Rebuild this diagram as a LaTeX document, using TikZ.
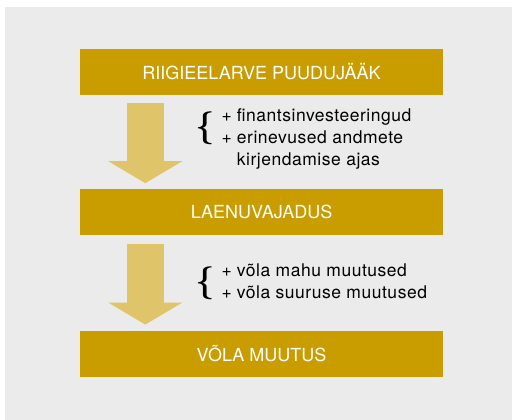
\documentclass[tikz,border=0pt]{standalone}
\usepackage{fontspec}
\setmainfont{TeX Gyre Heros}
\newfontfamily\notefont{TeX Gyre Heros}[LetterSpace=3]
\newfontfamily\bracefont{Latin Modern Roman}
\usetikzlibrary{positioning,calc,arrows.meta}
\definecolor{gold}{HTML}{C99C00}
\definecolor{lightgold}{HTML}{E0C46A}
\definecolor{panel}{HTML}{EBEBEB}
\tikzset{
stage/.style={fill=gold,text=white,minimum width=363pt,minimum height=46pt,inner sep=0pt,
font=\fontsize{18}{20}\selectfont},
bigarrow/.style={-{Triangle[width=73pt,length=22pt]},line width=37pt,lightgold,
shorten <=8pt,shorten >=6pt},
note/.style={inner sep=0pt,font=\notefont\fontsize{17.5}{22}\selectfont,align=left},
bracket/.style={inner sep=0pt,font=\bracefont\bfseries\fontsize{33}{33}\selectfont}
}
\begin{document}
\begin{tikzpicture}[x=1pt,y=1pt]
\useasboundingbox (0,0) rectangle (512,-420);
\fill[panel] (5,-7) rectangle (512,-420);
\node[stage] (deficit) at (261.5,-72) {RIIGIEELARVE PUUDUJÄÄK};
\node[stage,below=94pt of deficit] (need) {LAENUVAJADUS};
\node[stage,below=95pt of need] (change) {VÕLA MUUTUS};
\draw[bigarrow] ([xshift=65.5pt]deficit.south west) -- ([xshift=65.5pt]need.north west);
\draw[bigarrow] ([xshift=65.5pt]need.south west) -- ([xshift=65.5pt]change.north west);
% side notes
\node[note,anchor=base west] (n1) at ([xshift=141.7pt,yshift=-26.7pt]deficit.south west)
{\begin{tabular}[t]{@{}l@{\hspace{5pt}}l@{}}+&finantsinvesteeringud\\+&erinevused andmete\\&kirjendamise ajas\end{tabular}};
\node[note,anchor=base west] (n2) at ([xshift=141.7pt,yshift=-41pt]need.south west)
{\begin{tabular}[t]{@{}l@{\hspace{5pt}}l@{}}+&võla mahu muutused\\+&võla suuruse muutused\end{tabular}};
\node[bracket,anchor=east] (b1) at ([xshift=-7pt,yshift=-6.5pt]n1.base west) {\{};
\node[bracket,anchor=east] (b2) at ([xshift=-7pt,yshift=-6.5pt]n2.base west) {\{};
\end{tikzpicture}
\end{document}
